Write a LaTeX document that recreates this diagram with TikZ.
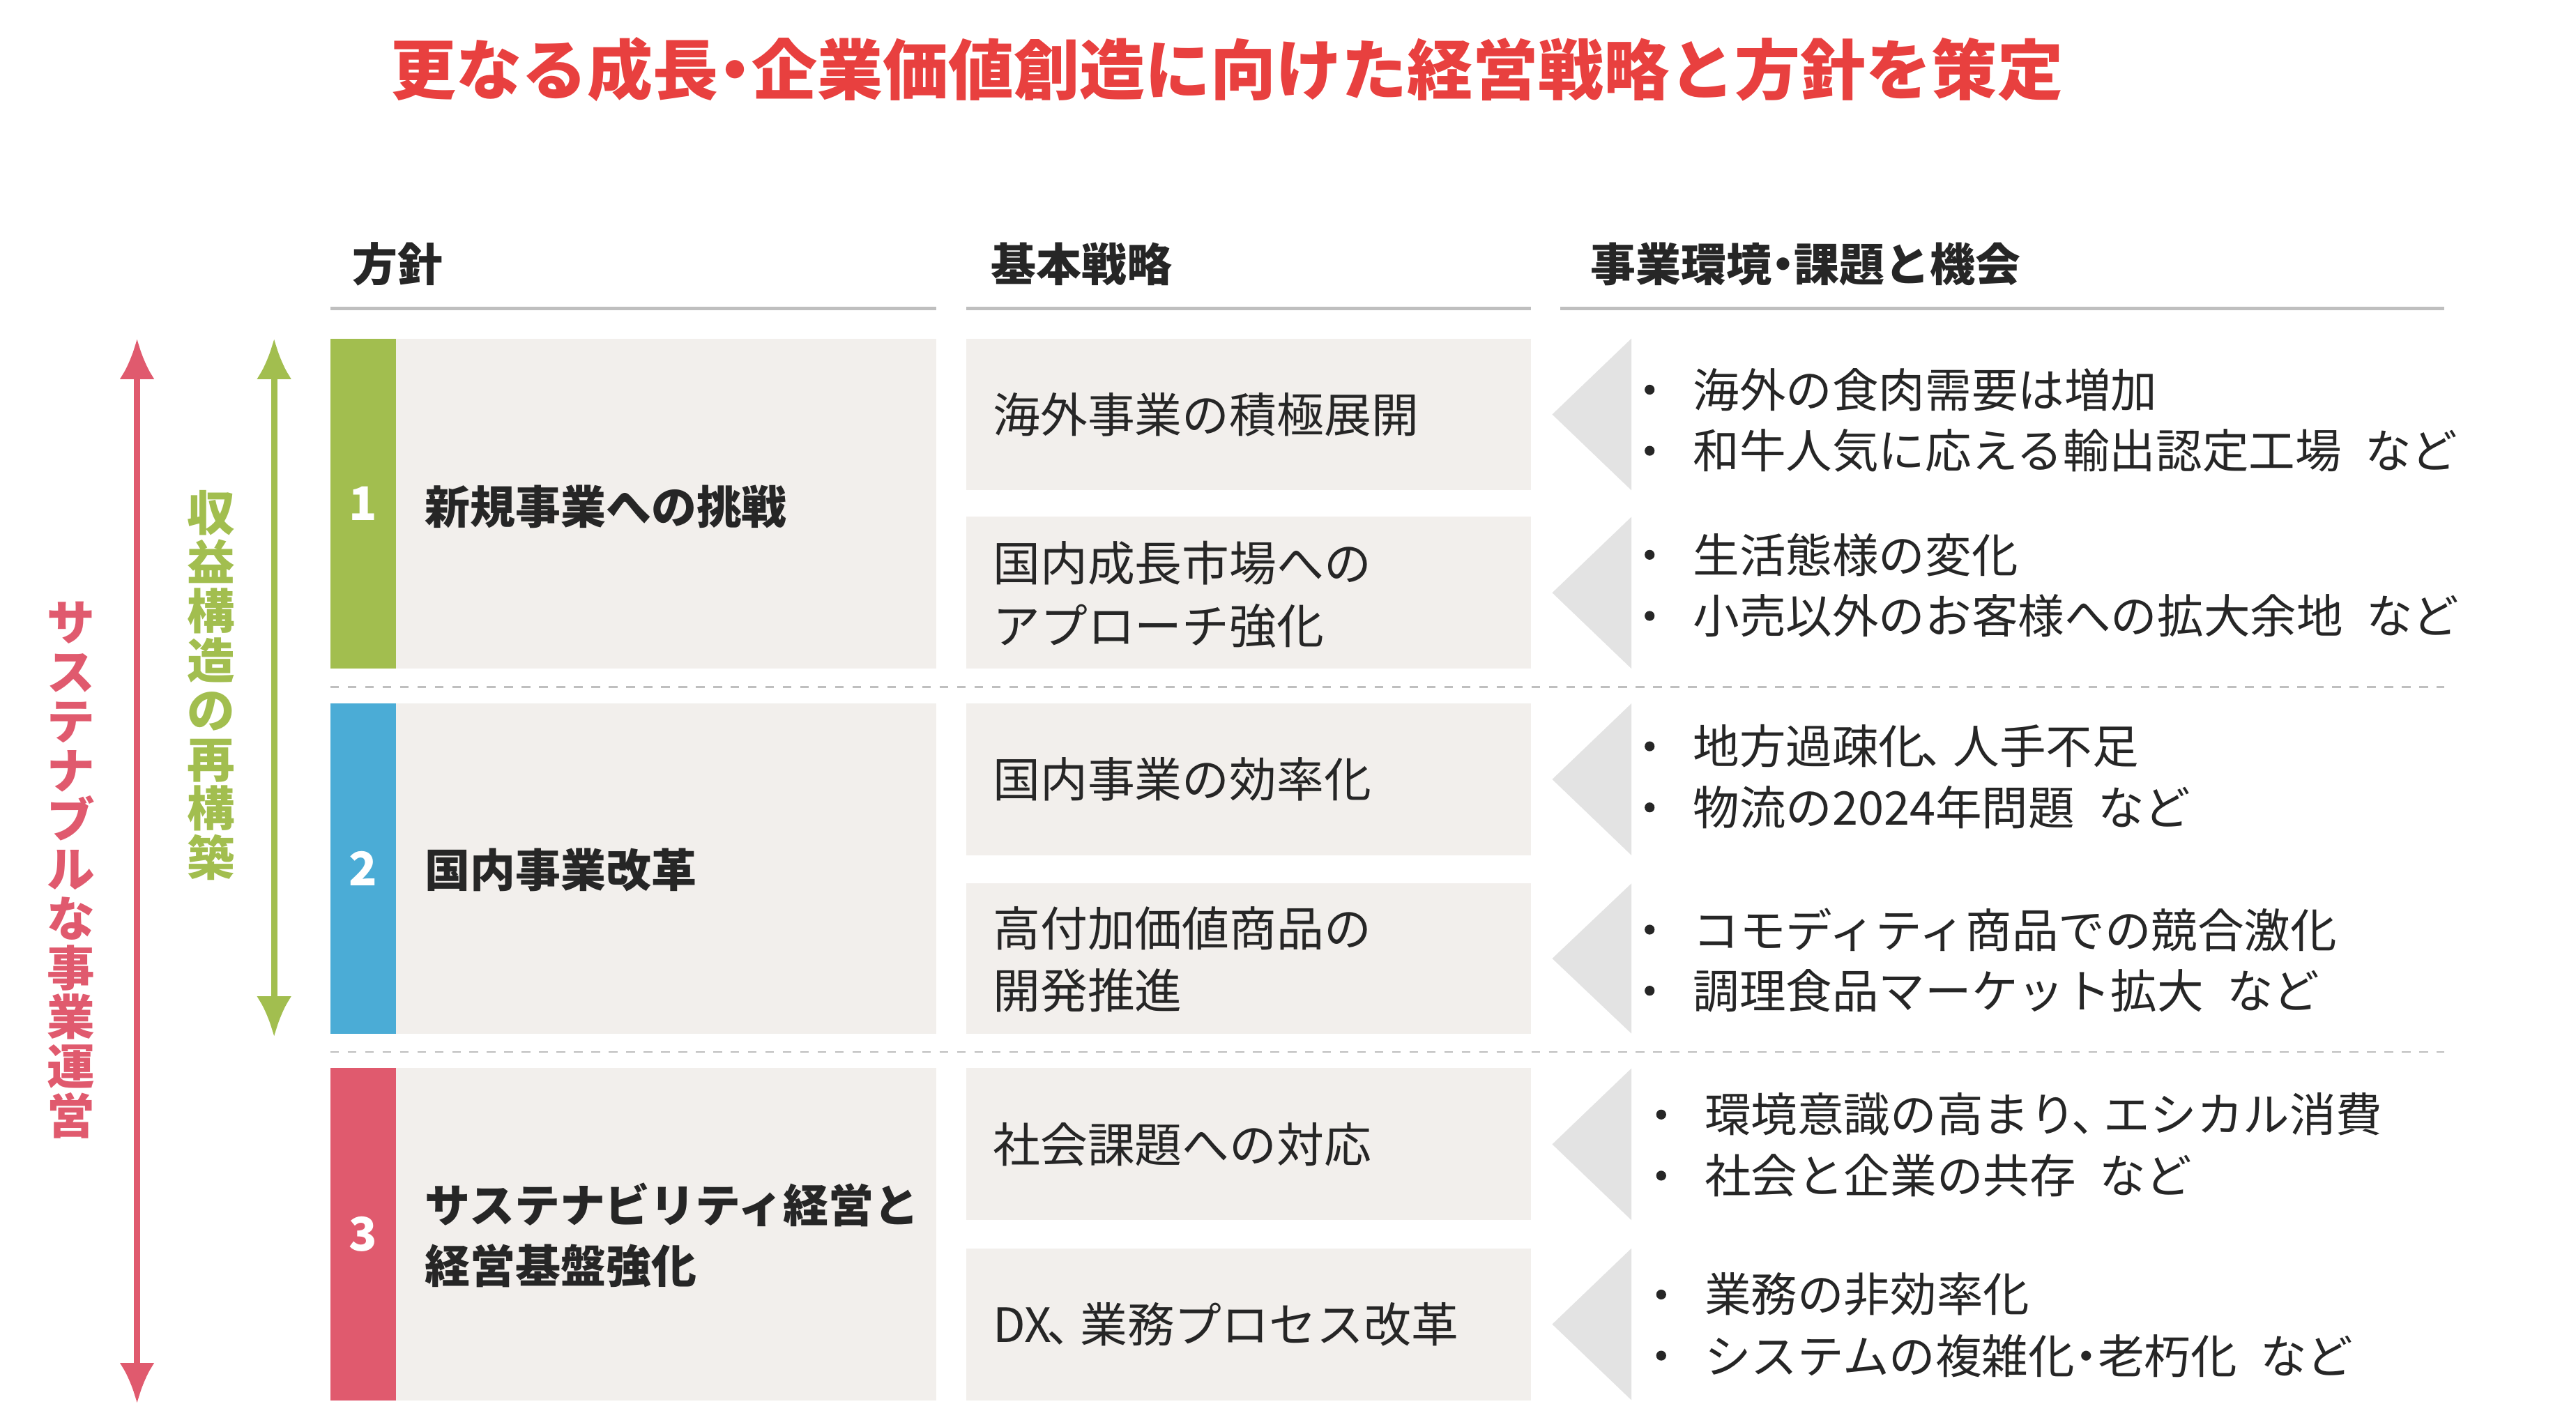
\documentclass[tikz,border=0pt]{standalone}
\usepackage{fontspec}
\usetikzlibrary{arrows.meta}
\setmainfont{Noto Sans CJK JP}
\definecolor{tred}{HTML}{E8403F}
\definecolor{cgreen}{HTML}{A2BE4F}
\definecolor{cblue}{HTML}{4BACD6}
\definecolor{cred}{HTML}{E05A6E}
\definecolor{boxg}{HTML}{F2EFEC}
\definecolor{trig}{HTML}{E3E3E3}
\definecolor{lineg}{HTML}{BFBFBF}
\definecolor{txt}{HTML}{262626}
\tikzset{
 T/.style={anchor=west,inner sep=0,text=txt,font=\fontsize{16pt}{21pt}\selectfont,align=left},
 TB/.style={T,font=\fontsize{15.6pt}{21pt}\selectfont\bfseries},
 H/.style={anchor=west,inner sep=0,text=txt,font=\fontsize{15.6pt}{19pt}\selectfont\bfseries},
 M/.style={T,font=\fontsize{16.3pt}{21.5pt}\selectfont},
 num/.style={inner sep=0,text=white,font=\fontsize{16pt}{19pt}\selectfont\bfseries},
 V/.style={inner sep=0,align=center,font=\fontsize{16.5pt}{17pt}\selectfont\bfseries},
}
\begin{document}
\begin{tikzpicture}[x=0.02cm,y=-0.02cm]
\useasboundingbox (0,0) rectangle (1560,864);
\node[inner sep=0,text=tred,font=\fontsize{22.6pt}{26pt}\selectfont\bfseries] (title) at (743,42) {更なる成長\kern-0.25em・\kern-0.25em企業価値創造に向けた経営戦略と方針を策定};
\node[H] (h1) at (213,160) {方針};
\node[H] (h2) at (600,160) {基本戦略};
\node[H] (h3) at (963,160) {事業環境\kern-0.25em・\kern-0.25em課題と機会};
\draw[lineg,line width=1.2pt] (200,187) -- (567,187) (585,187) -- (927,187) (945,187) -- (1480,187);
\draw[lineg,dashed,line width=0.6pt] (200,416) -- (1480,416) (200,637) -- (1480,637);
% left column
\foreach \ya/\yb/\c/\n in {205/405/cgreen/1,426/626/cblue/2,647/848/cred/3}{
 \fill[\c] (200,\ya) rectangle (240,\yb);
 \fill[boxg] (240,\ya) rectangle (567,\yb);
 \node[num] at (220,{(\ya+\yb)/2}) {\n};
}
\node[TB] (r1) at (257,307) {新規事業への挑戦};
\node[TB] (r2) at (257,527) {国内事業改革};
\node[TB] (r3) at (257,748) {サステナビリティ経営と\\経営基盤強化};
% middle boxes and triangles
\foreach \ya/\yb in {205/297,313/405,426/518,535/626,647/739,756/848}{
 \fill[boxg] (585,\ya) rectangle (927,\yb);
 \fill[trig] (940,{(\ya+\yb)/2}) -- (988,\ya) -- (988,\yb) -- cycle;
}
\node[M] (m1) at (601,251) {海外事業の積極展開};
\node[M] (m2) at (601,360) {国内成長市場への\\アプローチ強化};
\node[M] (m3) at (601,472) {国内事業の効率化};
\node[M] (m4) at (601,581) {高付加価値商品の\\開発推進};
\node[M] (m5) at (601,693) {社会課題への対応};
\node[M] (m6) at (601,802) {DX\kern-0.1em、\kern-0.3em業務プロセス改革};
% bullets
\foreach \x/\y/\s in {1025/236/{海外の食肉需要は増加},1025/273/{和牛人気に応える輸出認定工場\enspace など},
 1025/336/{生活態様の変化},1025/373/{小売以外のお客様への拡大余地\enspace など},
 1025/452/{地方過疎化\kern-0.1em、\kern-0.3em人手不足},1025/489/{物流の2024年問題\enspace など},
 1025/563/{コモディティ商品での競合激化},1025/600/{調理食品マーケット拡大\enspace など},
 1032/675/{環境意識の高まり\kern-0.1em、\kern-0.3emエシカル消費},1032/712/{社会と企業の共存\enspace など},
 1032/784/{業務の非効率化},1032/821/{システムの複雑化\kern-0.25em・\kern-0.25em老朽化\enspace など}}{
 \node[T] at (\x,\y) {\s};
 \fill[txt] ({\x-26},\y) circle (3);
}
% arrows
\draw[cred,line width=2.2pt,{Latex[length=14,width=12]}-{Latex[length=14,width=12]}] (83,205) coordinate (ra) -- (83,850) coordinate (rb);
\draw[cgreen,line width=2.2pt,{Latex[length=14,width=12]}-{Latex[length=14,width=12]}] (166,205) coordinate (ga) -- (166,628) coordinate (gb);
\node[V,text=cred] (vr) at (43,527) {サ\\ス\\テ\\ナ\\ブ\\ル\\な\\事\\業\\運\\営};
\node[V,text=cgreen] (vg) at (128,415) {収\\益\\構\\造\\の\\再\\構\\築};
\end{tikzpicture}
\end{document}
